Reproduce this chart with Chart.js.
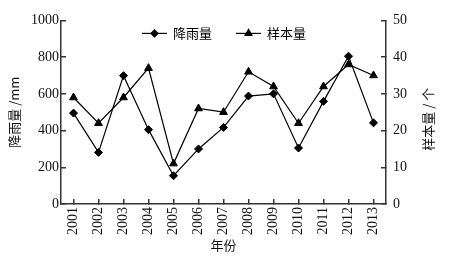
<!DOCTYPE html>
<html>
<head>
<meta charset="utf-8">
<script src="https://cdn.jsdelivr.net/npm/chart.js@4"></script>
<style>
  html, body { margin: 0; padding: 0; background: #fff; }
</style>
</head>
<body>
<canvas id="myChart" width="460" height="265"></canvas>
<script>
// data
const years = ['2001', '2002', '2003', '2004', '2005', '2006', '2007', '2008', '2009', '2010', '2011', '2012', '2013'];
const rainfall = [495, 281, 699, 405, 154, 300, 417, 588, 600, 305, 559, 805, 442]; // mm, left axis
const samples = [29, 22, 29, 37, 11, 26, 25, 36, 32, 22, 32, 38, 35]; // count, right axis

const serif = "'Liberation Serif', 'DejaVu Serif', serif";
const cjk = "'Noto Sans CJK SC', sans-serif";
const axisColor = '#333';

// legend drawn inside the plot area, plus the right axis title (reads bottom to top)
const extrasPlugin = {
    id: 'extras',
    afterDraw(chart) {
        const ctx = chart.ctx;
        const area = chart.chartArea;
        const ly = area.top + 13;
        const items = [
            { x: area.left + 81, text: '降雨量', ds: chart.data.datasets[0] },
            { x: area.left + 175, text: '样本量', ds: chart.data.datasets[1] }
        ];
        ctx.save();
        items.forEach(it => {
            ctx.strokeStyle = '#000';
            ctx.fillStyle = '#000';
            ctx.lineWidth = 1.2;
            ctx.beginPath();
            ctx.moveTo(it.x, ly);
            ctx.lineTo(it.x + 25, ly);
            ctx.stroke();
            Chart.helpers.drawPoint(ctx, {
                pointStyle: it.ds.pointStyle,
                radius: it.ds.pointRadius - 0.5,
                rotation: 0,
                borderWidth: 1
            }, it.x + 12.5, ly);
            ctx.font = '13px ' + cjk;
            ctx.textBaseline = 'middle';
            ctx.textAlign = 'left';
            ctx.fillText(it.text, it.x + 31, ly);
        });

        // right axis title
        ctx.translate(428, (area.top + area.bottom) / 2 + 7);
        ctx.rotate(-Math.PI / 2);
        ctx.font = '13px ' + cjk;
        ctx.textAlign = 'center';
        ctx.textBaseline = 'middle';
        ctx.fillStyle = '#111';
        ctx.fillText('样本量 / 个', 0, 0);
        ctx.restore();
    }
};

const ctx = document.getElementById('myChart').getContext('2d');
const chart = new Chart(ctx, {
    type: 'line',
    data: {
        labels: years,
        datasets: [{
            label: '降雨量',
            data: rainfall,
            yAxisID: 'y',
            borderColor: '#000',
            backgroundColor: '#000',
            borderWidth: 1.2,
            pointStyle: 'rectRot',
            pointRadius: 4,
            pointBorderWidth: 1,
            tension: 0
        }, {
            label: '样本量',
            data: samples,
            yAxisID: 'y1',
            borderColor: '#000',
            backgroundColor: '#000',
            borderWidth: 1.2,
            pointStyle: 'triangle',
            pointRadius: 4.5,
            pointBorderWidth: 1,
            tension: 0
        }]
    },
    options: {
        responsive: false,
        animation: false,
        layout: { padding: { top: 18, left: 0, right: 0, bottom: 0 } },
        plugins: {
            legend: { display: false },
            tooltip: { enabled: false }
        },
        scales: {
            x: {
                offset: true,
                grid: { drawOnChartArea: false, tickLength: -5, color: axisColor, lineWidth: 1.5 },
                border: { color: axisColor, width: 1.5 },
                ticks: {
                    minRotation: 90, maxRotation: 90, padding: 8,
                    color: '#111', font: { family: serif, size: 14 }
                },
                title: {
                    display: true, text: '年份', color: '#111',
                    font: { family: cjk, size: 13 }, padding: { top: 0, bottom: 12 }
                },
                afterFit(scale) { scale.height = 61; }
            },
            y: {
                position: 'left',
                min: 0, max: 1000,
                grid: { drawOnChartArea: false, tickLength: -5, color: axisColor, lineWidth: 1.5 },
                border: { color: axisColor, width: 1.5 },
                ticks: {
                    stepSize: 200, padding: 7,
                    color: '#111', font: { family: serif, size: 14 },
                    callback: v => String(v)
                },
                title: {
                    display: true, text: '降雨量 /mm', color: '#111',
                    font: { family: cjk, size: 13 }, padding: { top: 6, bottom: 0 }
                },
                afterFit(scale) { scale.width = 61; }
            },
            y1: {
                position: 'right',
                min: 0, max: 50,
                grid: { drawOnChartArea: false, tickLength: -5, color: axisColor, lineWidth: 1.5 },
                border: { color: axisColor, width: 1.5 },
                ticks: {
                    stepSize: 10, padding: 12,
                    color: '#111', font: { family: serif, size: 14 },
                    callback: v => String(v)
                },
                afterFit(scale) { scale.width = 74; }
            }
        }
    },
    plugins: [extrasPlugin]
});
</script>
</body>
</html>
